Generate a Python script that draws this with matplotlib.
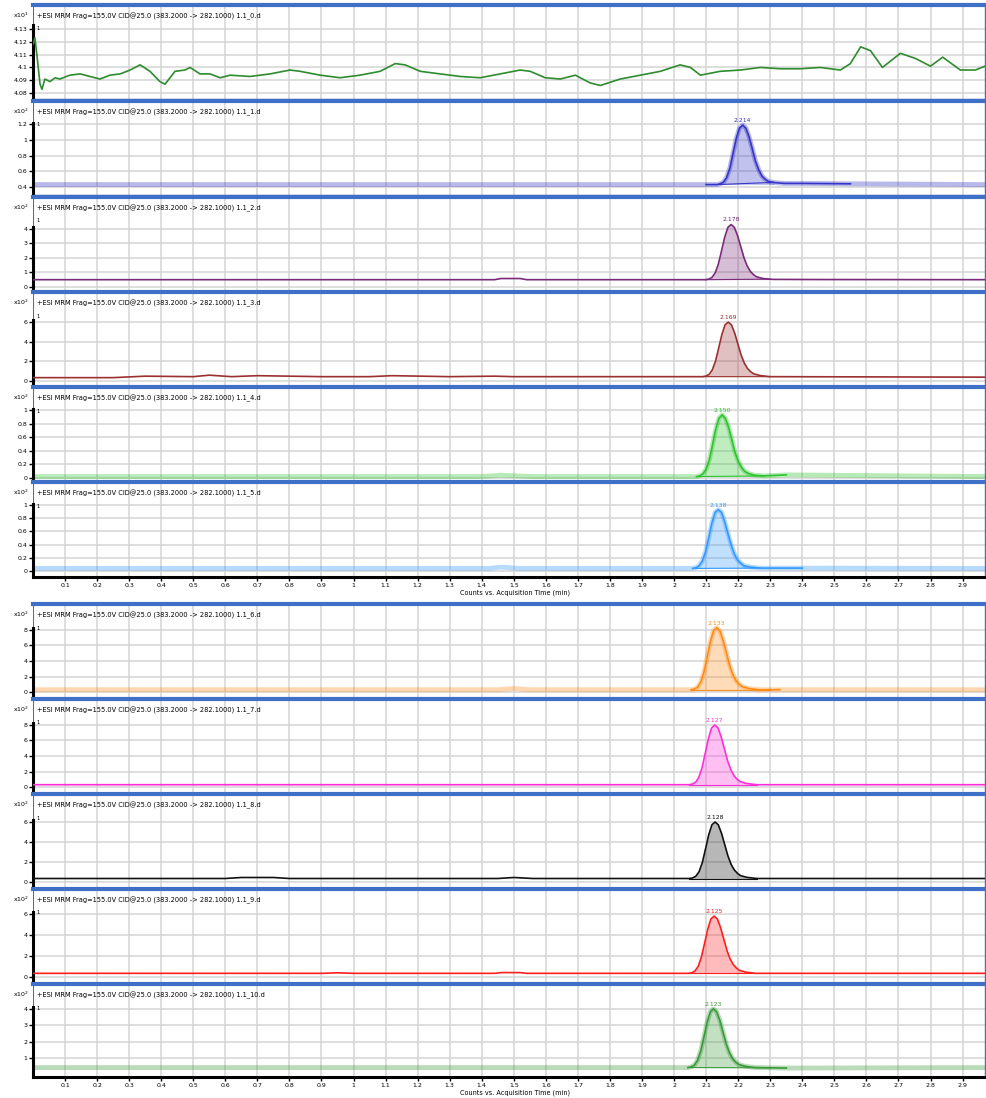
import numpy as np
import matplotlib.pyplot as plt

# ---- data (time in min, counts in panel units) ----
header = "+ESI MRM Frag=155.0V CID@25.0 (383.2000 -> 282.1000) 1.1_{}.d"

t1 = [0.0, 0.006, 0.012, 0.022, 0.028, 0.037, 0.053, 0.069, 0.084, 0.115, 0.147, 0.178,
      0.209, 0.24, 0.272, 0.303, 0.334, 0.365, 0.396, 0.412, 0.443, 0.474, 0.49, 0.521,
      0.552, 0.584, 0.615, 0.677, 0.74, 0.802, 0.833, 0.896, 0.958, 1.02, 1.083, 1.13,
      1.161, 1.208, 1.27, 1.333, 1.395, 1.458, 1.52, 1.551, 1.598, 1.645, 1.692, 1.738,
      1.77, 1.832, 1.895, 1.957, 2.019, 2.051, 2.082, 2.144, 2.207, 2.269, 2.332, 2.394,
      2.456, 2.519, 2.55, 2.582, 2.613, 2.65, 2.706, 2.753, 2.8, 2.838, 2.893, 2.94, 2.97]
y1 = [4.118, 4.123, 4.110, 4.087, 4.083, 4.091, 4.089, 4.092, 4.091, 4.094, 4.095, 4.093,
      4.091, 4.094, 4.095, 4.098, 4.102, 4.097, 4.089, 4.087, 4.097, 4.098, 4.100, 4.095,
      4.095, 4.092, 4.094, 4.093, 4.095, 4.098, 4.097, 4.094, 4.092, 4.094, 4.097, 4.103,
      4.102, 4.097, 4.095, 4.093, 4.092, 4.095, 4.098, 4.097, 4.092, 4.091, 4.094, 4.088,
      4.086, 4.091, 4.094, 4.097, 4.102, 4.100, 4.094, 4.097, 4.098, 4.100, 4.099, 4.099,
      4.100, 4.098, 4.103, 4.116, 4.113, 4.100, 4.111, 4.107, 4.101, 4.108, 4.098, 4.098, 4.101]

t2 = [0.0, 2.10, 2.134, 2.144, 2.154, 2.164, 2.174, 2.184, 2.194, 2.204, 2.214, 2.224, 2.234,
      2.244, 2.254, 2.264, 2.274, 2.284, 2.294, 2.314, 2.344, 2.40, 2.55, 2.97]
y2 = [0.43, 0.43, 0.43, 0.44, 0.46, 0.52, 0.64, 0.83, 1.02, 1.15, 1.19, 1.15, 1.04, 0.89,
      0.73, 0.62, 0.54, 0.50, 0.47, 0.455, 0.445, 0.445, 0.44, 0.43]

t3 = [0.0, 1.44, 1.46, 1.52, 1.54, 2.098, 2.108, 2.118, 2.128, 2.138, 2.148, 2.158, 2.168,
      2.178, 2.188, 2.198, 2.208, 2.218, 2.228, 2.238, 2.248, 2.258, 2.278, 2.308, 2.45, 2.97]
y3 = [0.5, 0.5, 0.58, 0.58, 0.5, 0.5, 0.54, 0.65, 0.96, 1.56, 2.48, 3.43, 4.11, 4.3, 4.11,
      3.54, 2.78, 2.02, 1.45, 1.07, 0.84, 0.69, 0.58, 0.52, 0.51, 0.5]

t4 = [0.0, 0.25, 0.35, 0.5, 0.55, 0.62, 0.7, 0.9, 1.05, 1.12, 1.3, 1.44, 1.5, 1.7, 2.089,
      2.099, 2.109, 2.119, 2.129, 2.139, 2.149, 2.159, 2.169, 2.179, 2.189, 2.199, 2.209,
      2.219, 2.229, 2.239, 2.249, 2.269, 2.299, 2.97]
y4 = [0.35, 0.35, 0.5, 0.45, 0.6, 0.45, 0.55, 0.45, 0.45, 0.55, 0.45, 0.5, 0.45, 0.45, 0.45,
      0.51, 0.67, 1.12, 2.00, 3.34, 4.72, 5.72, 6.0, 5.72, 4.89, 3.78, 2.67, 1.84, 1.28, 0.95,
      0.73, 0.56, 0.45, 0.4]

t5 = [0.0, 1.40, 1.46, 1.56, 2.07, 2.08, 2.09, 2.10, 2.11, 2.12, 2.13, 2.14, 2.15, 2.16,
      2.17, 2.18, 2.19, 2.20, 2.21, 2.22, 2.23, 2.25, 2.28, 2.35, 2.6, 2.97]
y5 = [0.02, 0.02, 0.04, 0.02, 0.02, 0.03, 0.06, 0.13, 0.27, 0.49, 0.72, 0.88, 0.93, 0.88,
      0.75, 0.57, 0.38, 0.25, 0.16, 0.10, 0.07, 0.04, 0.03, 0.045, 0.035, 0.02]

t6 = [0.0, 1.42, 1.46, 1.52, 2.058, 2.068, 2.078, 2.088, 2.098, 2.108, 2.118, 2.128, 2.138,
      2.148, 2.158, 2.168, 2.178, 2.188, 2.198, 2.208, 2.218, 2.238, 2.268, 2.40, 2.97]
y6 = [0.04, 0.04, 0.06, 0.04, 0.04, 0.05, 0.08, 0.15, 0.29, 0.50, 0.73, 0.89, 0.93, 0.89,
      0.75, 0.57, 0.40, 0.26, 0.17, 0.12, 0.08, 0.06, 0.045, 0.045, 0.04]

t7 = [0.0, 1.45, 1.50, 1.55, 2.053, 2.063, 2.073, 2.083, 2.093, 2.103, 2.113, 2.123, 2.133,
      2.143, 2.153, 2.163, 2.173, 2.183, 2.193, 2.203, 2.213, 2.233, 2.263, 2.33, 2.97]
y7 = [0.3, 0.3, 0.45, 0.3, 0.3, 0.38, 0.62, 1.26, 2.54, 4.46, 6.46, 7.9, 8.3, 7.9, 6.7, 5.1,
      3.5, 2.3, 1.5, 1.02, 0.7, 0.46, 0.3, 0.3, 0.3]

t8 = [0.0, 2.047, 2.057, 2.067, 2.077, 2.087, 2.097, 2.107, 2.117, 2.127, 2.137, 2.147,
      2.157, 2.167, 2.177, 2.187, 2.197, 2.207, 2.227, 2.257, 2.97]
y8 = [0.3, 0.3, 0.38, 0.61, 1.22, 2.46, 4.3, 6.23, 7.62, 8.0, 7.62, 6.46, 4.92, 3.38, 2.23,
      1.46, 0.99, 0.69, 0.45, 0.3, 0.3]

t9 = [0.0, 0.6, 0.65, 0.75, 0.8, 1.45, 1.5, 1.56, 2.048, 2.058, 2.068, 2.078, 2.088, 2.098,
      2.108, 2.118, 2.128, 2.138, 2.148, 2.158, 2.168, 2.178, 2.188, 2.198, 2.208, 2.228,
      2.258, 2.97]
y9 = [0.35, 0.35, 0.45, 0.45, 0.35, 0.35, 0.45, 0.35, 0.35, 0.41, 0.58, 1.03, 1.93, 3.29,
      4.7, 5.72, 6.0, 5.72, 4.87, 3.74, 2.61, 1.76, 1.2, 0.86, 0.63, 0.46, 0.35, 0.35]

t10 = [0.0, 0.9, 0.95, 1.0, 1.44, 1.46, 1.52, 1.54, 2.045, 2.055, 2.065, 2.075, 2.085, 2.095,
       2.105, 2.115, 2.125, 2.135, 2.145, 2.155, 2.165, 2.175, 2.185, 2.195, 2.205, 2.225,
       2.255, 2.97]
y10 = [0.35, 0.35, 0.4, 0.35, 0.35, 0.42, 0.42, 0.35, 0.35, 0.4, 0.57, 1.0, 1.88, 3.18, 4.55,
       5.53, 5.8, 5.53, 4.71, 3.62, 2.53, 1.71, 1.17, 0.84, 0.62, 0.46, 0.35, 0.35]

t11 = [0.0, 2.043, 2.053, 2.063, 2.073, 2.083, 2.093, 2.103, 2.113, 2.123, 2.133, 2.143,
       2.153, 2.163, 2.173, 2.183, 2.193, 2.203, 2.223, 2.253, 2.35, 2.97]
y11 = [0.45, 0.45, 0.49, 0.59, 0.88, 1.44, 2.3, 3.18, 3.82, 4.0, 3.82, 3.29, 2.58, 1.87,
       1.34, 0.98, 0.77, 0.63, 0.52, 0.45, 0.42, 0.45]

peak_labels = [None, "2.214", "2.178", "2.169", "2.150", "2.138",
               "2.133", "2.127", "2.128", "2.125", "2.123"]
yticks = [[4.08, 4.09, 4.1, 4.11, 4.12, 4.13], [0.4, 0.6, 0.8, 1, 1.2], [0, 1, 2, 3, 4],
          [0, 2, 4, 6], [0, 0.2, 0.4, 0.6, 0.8, 1], [0, 0.2, 0.4, 0.6, 0.8, 1],
          [0, 2, 4, 6, 8], [0, 2, 4, 6, 8], [0, 2, 4, 6], [0, 2, 4, 6], [1, 2, 3, 4]]
exponents = [1, 2, 2, 2, 2, 2, 2, 2, 2, 2, 2]
xticks = [round(0.1 * i, 1) for i in range(1, 30)]

traces = [(t1, y1), (t2, y2), (t3, y3), (t4, y4), (t5, y5), (t6, y6),
          (t7, y7), (t8, y8), (t9, y9), (t10, y10), (t11, y11)]

# ---- styling / layout ----
W, H = 987, 1098
BLUE = '#3f6fc6'
colors = ['#2e8b2e', '#3535c8', '#7a2a7a', '#9b3030', '#2ec42e', '#3399ff',
          '#ff8c1a', '#ff2ed8', '#111111', '#ff1e1e', '#3a9a3a']
# (top px, bottom px) of each panel
extent = [(5, 99), (101, 195), (197, 291), (292, 386), (387, 481), (482, 577),
          (604, 698), (699, 793), (794, 888), (889, 983), (984, 1077)]
ylims = [(4.0755, 4.1485), (0.297, 1.497), (-0.28, 6.2), (-0.5, 9.06), (-0.045, 1.34),
         (-0.09, 1.35), (-0.77, 11.35), (-0.77, 11.35), (-0.6, 8.8), (-0.57, 8.38),
         (-0.12, 5.5)]
data_top = [4.133, 1.22, 4.1, 6.2, 1.02, 1.02, 8.2, 8.2, 6.2, 6.2, 4.1]
dark_range = [None, (2.10, 2.55), None, None, (2.06, 2.35), (2.05, 2.40),
              (2.04, 2.33), None, None, None, (2.04, 2.35)]
fill_range = [None, (2.134, 2.31), (2.098, 2.30), (2.089, 2.30), (2.07, 2.28),
              (2.058, 2.27), (2.053, 2.30), (2.047, 2.26), (2.048, 2.26), (2.045, 2.255),
              (2.043, 2.30)]
last_in_group = [5, 10]

fig = plt.figure(figsize=(W / 100, H / 100), dpi=100)

for i, (t, y) in enumerate(traces):
    top, bot = extent[i]
    ax = fig.add_axes([33 / W, 1 - bot / H, (985 - 33) / W, (bot - top) / H])
    t = np.array(t)
    y = np.array(y)
    c = colors[i]

    if dark_range[i] is None:
        ax.plot(t, y, color=c, lw=1.2, zorder=3)
    else:
        a, b = dark_range[i]
        ax.plot(t, y, color=c, lw=3.5, alpha=0.35, zorder=2, solid_capstyle='butt')
        m = (t >= a) & (t <= b)
        ax.plot(t[m], y[m], color=c, lw=1.2, zorder=3)

    if fill_range[i] is not None:
        a, b = fill_range[i]
        tt = np.linspace(a, b, 200)
        yy = np.interp(tt, t, y)
        ax.fill_between(tt, yy[0], yy, color=c, alpha=0.3, lw=0, zorder=2)
        ax.plot([a, b], [yy[0], yy[-1]], color=c, lw=0.8, zorder=3)
        k = int(np.argmax(y))
        ax.annotate(peak_labels[i], (t[k], y[k]), xytext=(0, 1.5), textcoords='offset points',
                    ha='center', va='bottom', fontsize=4.4, color=c, zorder=4)

    ax.set_xlim(0, 2.97)
    ax.set_ylim(*ylims[i])
    ax.set_xticks(xticks)
    ax.set_yticks(yticks[i])
    ax.set_yticklabels(['%g' % v for v in yticks[i]])
    ax.grid(True, color='#d4d4d4', lw=1.1, zorder=0)
    ax.set_axisbelow(True)
    ax.tick_params(axis='y', direction='out', length=3, width=1, labelsize=4.5, pad=1)

    for s in ['top', 'right', 'left', 'bottom']:
        ax.spines[s].set_color(BLUE)
    ax.spines['top'].set_linewidth(3)
    ax.spines['right'].set_linewidth(1)
    ax.spines['left'].set_color('black')
    ax.spines['left'].set_linewidth(2.2)
    ax.spines['left'].set_bounds(ylims[i][0], data_top[i])
    ax.axvline(0, color=BLUE, lw=1.5, zorder=1)

    if i in last_in_group:
        ax.spines['bottom'].set_color('black')
        ax.spines['bottom'].set_linewidth(2.2)
        ax.tick_params(axis='x', direction='out', length=3, width=1, labelsize=4.5, pad=1.5)
        ax.set_xticklabels(['%g' % v for v in xticks])
        fig.text(515 / W, 1 - (bot + 16) / H, 'Counts vs. Acquisition Time (min)',
                 fontsize=4.7, ha='center', va='center')
    else:
        ax.spines['bottom'].set_linewidth(1)
        ax.tick_params(axis='x', length=0, labelbottom=False)

    fig.text(37 / W, 1 - (top + 11) / H, header.format(i), fontsize=4.8, va='center')
    fig.text(29 / W, 1 - (top + 10) / H, r'x10$^{%d}$' % exponents[i], fontsize=4.5,
             ha='right', va='center')
    fig.text(36 / W, 1 - (top + 24) / H, '1', fontsize=3.8, va='center')

fig.savefig('out.png', dpi=100)
